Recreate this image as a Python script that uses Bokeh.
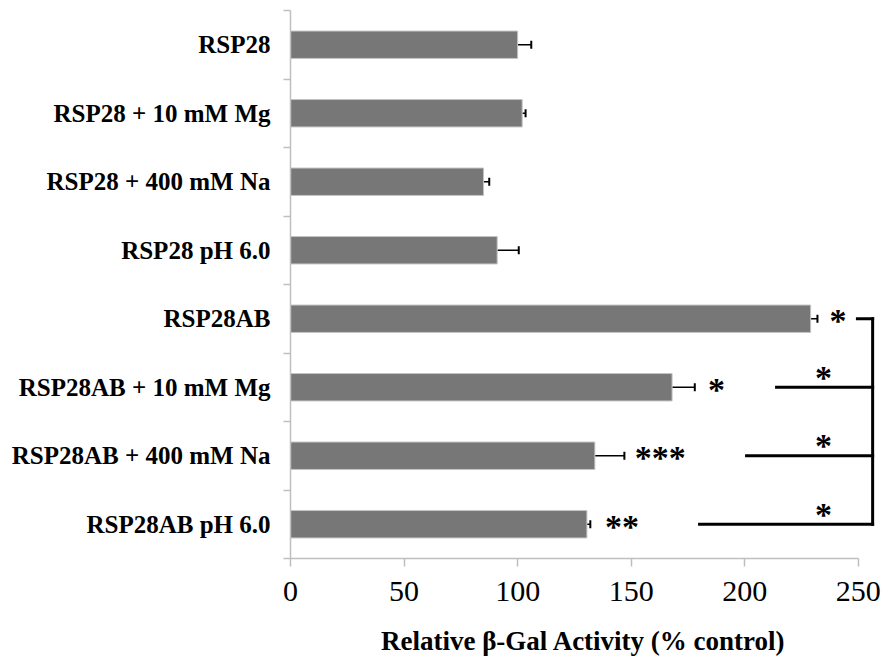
from bokeh.plotting import figure
from bokeh.models import ColumnDataSource, Range1d, FixedTicker, Whisker, TeeHead
from bokeh.core.properties import value
from bokeh.embed import file_html
from bokeh.resources import INLINE

# ---- data ----
categories = ["RSP28", "RSP28 + 10 mM Mg", "RSP28 + 400 mM Na", "RSP28 pH 6.0",
              "RSP28AB", "RSP28AB + 10 mM Mg", "RSP28AB + 400 mM Na", "RSP28AB pH 6.0"]
activity = [100, 102, 85, 91, 229, 168, 134, 130.5]
errors = [6, 1.5, 2.5, 9.5, 3, 10, 13, 1.5]
x_ticks = [0, 50, 100, 150, 200, 250]

# significance marks next to bars
mark_cats = ["RSP28AB", "RSP28AB + 10 mM Mg", "RSP28AB + 400 mM Na", "RSP28AB pH 6.0"]
mark_text = ["*", "*", "***", "**"]
mark_x = [237.3, 183.8, 151.6, 138.5]

# comparison bracket to RSP28AB
bracket_ref = "RSP28AB"
compare_cats = ["RSP28AB + 10 mM Mg", "RSP28AB + 400 mM Na", "RSP28AB pH 6.0"]
compare_start = [214.0, 200.8, 180.1]
compare_star_x = 234.7
bracket_x = 256.3
bracket_stub_start = 249.6

FONT = "Liberation Serif"
AXIS_GREY = "#bfbfbf"

n = len(categories)
pos = {c: n - 1 - i for i, c in enumerate(categories)}
ypos = [pos[c] for c in categories]

p = figure(frame_width=586, frame_height=548,
           x_range=Range1d(0, 258), y_range=Range1d(-0.5, n - 0.5),
           output_backend="svg", toolbar_location=None,
           min_border_left=290, min_border_right=6, min_border_top=10, min_border_bottom=100)
p.outline_line_color = None
p.grid.visible = False

# bars
src = ColumnDataSource(dict(y=ypos, right=activity,
                            upper=[a + e for a, e in zip(activity, errors)]))
p.hbar(y="y", right="right", left=0, height=0.4, source=src,
       fill_color="#777777", line_color="#c4c4c4", line_width=1)

# error bars (one-sided)
w = Whisker(base="y", lower="right", upper="upper", dimension="width", source=src,
            line_color="black", line_width=1.5,
            upper_head=TeeHead(size=8, line_color="black", line_width=2), lower_head=None)
p.add_layout(w)

# significance marks
p.text(x=mark_x, y=[pos[c] for c in mark_cats], text=mark_text,
       text_font=value(FONT), text_font_style="bold", text_font_size="34px",
       text_align="left", text_baseline="alphabetic", y_offset=2, text_color="black")

# bracket
ref_y = pos[bracket_ref]
cmp_y = [pos[c] for c in compare_cats]
p.segment(x0=compare_start + [bracket_stub_start, bracket_x],
          y0=cmp_y + [ref_y, ref_y],
          x1=[bracket_x] * len(cmp_y) + [bracket_x, bracket_x],
          y1=cmp_y + [ref_y, min(cmp_y)],
          line_color="black", line_width=3, line_cap="square")
p.text(x=[compare_star_x] * len(cmp_y), y=cmp_y, text=["*"] * len(cmp_y),
       text_font=value(FONT), text_font_style="bold", text_font_size="34px",
       text_align="center", text_baseline="alphabetic", y_offset=-10, text_color="black")

# x axis
xa = p.xaxis[0]
xa.ticker = FixedTicker(ticks=x_ticks)
xa.bounds = (0, 250)
xa.axis_line_color = AXIS_GREY
xa.axis_line_width = 1.5
xa.major_tick_line_color = AXIS_GREY
xa.major_tick_line_width = 1.5
xa.major_tick_out = 8
xa.major_tick_in = 0
xa.minor_tick_line_color = None
xa.major_label_text_font = FONT
xa.major_label_text_font_size = "30px"
xa.major_label_text_color = "black"
xa.major_label_standoff = 15
xa.axis_label = "Relative β-Gal Activity (% control)"
xa.axis_label_text_font = FONT
xa.axis_label_text_font_style = "bold"
xa.axis_label_text_font_size = "27px"
xa.axis_label_text_color = "black"
xa.axis_label_standoff = 22

# y axis
ya = p.yaxis[0]
ya.ticker = FixedTicker(ticks=list(range(n)), minor_ticks=[i - 0.5 for i in range(n + 1)])
ya.axis_line_color = AXIS_GREY
ya.axis_line_width = 1.5
ya.major_tick_line_color = None
ya.major_tick_out = 0
ya.major_tick_in = 0
ya.minor_tick_line_color = AXIS_GREY
ya.minor_tick_line_width = 1.5
ya.minor_tick_out = 7
ya.minor_tick_in = 0
ya.major_label_overrides = {pos[c]: c for c in categories}
ya.major_label_text_font = FONT
ya.major_label_text_font_style = "bold"
ya.major_label_text_font_size = "25px"
ya.major_label_text_color = "black"
ya.major_label_standoff = 13

open("out.html", "w").write(file_html(p, INLINE))
